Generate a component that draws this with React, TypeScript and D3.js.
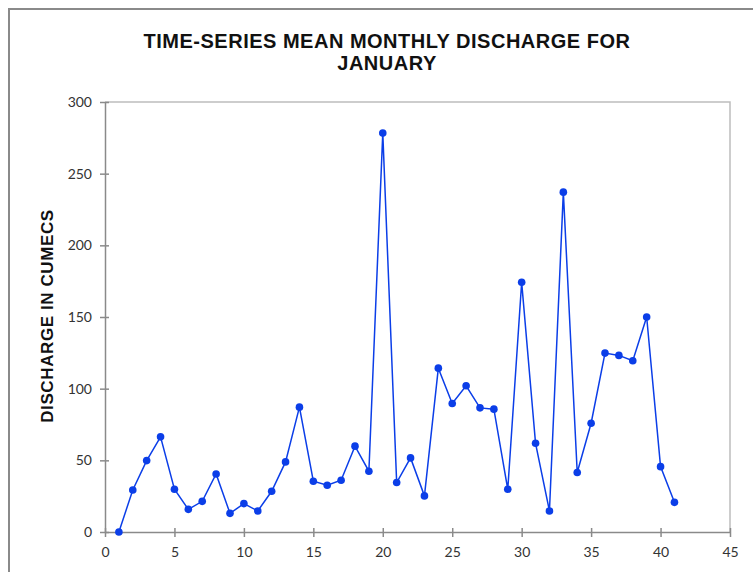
import React, {useEffect, useRef} from 'react'
import * as d3 from 'd3'

// January mean monthly discharge, one value per year index
const years = [1, 2, 3, 4, 5, 6, 7, 8, 9, 10, 11, 12, 13, 14, 15, 16, 17, 18, 19, 20, 21,
  22, 23, 24, 25, 26, 27, 28, 29, 30, 31, 32, 33, 34, 35, 36, 37, 38, 39, 40, 41]
const discharge = [0, 29.3, 49.8, 66.4, 29.8, 15.8, 21.4, 40.5, 13, 19.8, 14.7, 28.4, 48.9, 87.1,
  35.4, 32.6, 36.1, 59.9, 42.4, 278.3, 34.5, 51.7, 25.2, 114.3, 89.7, 102, 86.6, 85.7, 29.8,
  174.2, 61.9, 14.7, 237.1, 41.5, 75.9, 124.8, 123.2, 119.5, 150, 45.6, 20.7]
const xTicks = [0, 5, 10, 15, 20, 25, 30, 35, 40, 45]
const yTicks = [0, 50, 100, 150, 200, 250, 300]
const titleLines = ['TIME-SERIES MEAN MONTHLY DISCHARGE FOR', 'JANUARY']
const yTitle = 'DISCHARGE IN CUMECS'

const W = 753, H = 572
const margin = {top: 102, right: 23, bottom: 40, left: 105}
const blue = '#0b3ee8'
const tickFont = 'Lato, "Open Sans", sans-serif'
const boldFont = '"Liberation Sans", Arial, sans-serif'

function Chart() {
  const ref = useRef<SVGSVGElement>(null)

  useEffect(() => {
    const svg = d3.select(ref.current)
    svg.selectAll('*').remove()

    const width = W - margin.left - margin.right
    const height = H - margin.top - margin.bottom

    // outer chart frame (cut off at right/bottom)
    svg.append('rect')
      .attr('x', 9).attr('y', 9)
      .attr('width', W + 20).attr('height', H + 20)
      .attr('fill', 'white')
      .attr('stroke', '#8a8a8a').attr('stroke-width', 2)

    const title = svg.append('text')
      .attr('text-anchor', 'middle')
      .attr('font-family', boldFont)
      .attr('font-weight', 'bold')
      .attr('font-size', 20)
      .attr('letter-spacing', 0.5)
      .attr('fill', '#111')
    titleLines.forEach((t, i) => {
      title.append('tspan').attr('x', 387).attr('y', 48 + i * 22).text(t)
    })

    svg.append('text')
      .attr('transform', `translate(53,${margin.top + height / 2 - 1}) rotate(-90)`)
      .attr('text-anchor', 'middle')
      .attr('font-family', boldFont)
      .attr('font-weight', 'bold')
      .attr('font-size', 17)
      .attr('letter-spacing', 0.6)
      .attr('fill', '#111')
      .text(yTitle)

    const g = svg.append('g').attr('transform', `translate(${margin.left},${margin.top})`)

    const x = d3.scaleLinear().domain([0, 45]).range([0, width])
    const y = d3.scaleLinear().domain([0, 300]).range([height, 0])

    // plot area frame
    g.append('path')
      .attr('d', `M0,0H${width}V${height}`)
      .attr('fill', 'none')
      .attr('stroke', '#bdbdbd')
      .attr('stroke-width', 1.5)

    const xAxis = g.append('g')
      .attr('transform', `translate(0,${height})`)
      .call(d3.axisBottom(x).tickValues(xTicks).tickSize(5).tickSizeOuter(0))
    xAxis.selectAll('.tick line').attr('y1', -4)
    const yAxis = g.append('g')
      .call(d3.axisLeft(y).tickValues(yTicks).tickSize(5).tickSizeOuter(0))
    yAxis.selectAll('.tick line').attr('x1', 4)

    ;[xAxis, yAxis].forEach(a => {
      a.select('.domain').attr('stroke', '#8a8a8a').attr('stroke-width', 1.5)
      a.selectAll('.tick line').attr('stroke', '#8a8a8a').attr('stroke-width', 1.5)
      a.selectAll('.tick text')
        .attr('font-family', tickFont)
        .attr('font-size', 14)
        .attr('fill', '#333')
    })
    xAxis.selectAll('.tick text').attr('dy', '1.2em')
    yAxis.selectAll('.tick text').attr('x', -13)

    const pts = years.map((yr, i) => [yr, discharge[i]] as [number, number])
    const line = d3.line<[number, number]>().x(d => x(d[0])).y(d => y(d[1]))

    g.append('path')
      .datum(pts)
      .attr('d', line)
      .attr('fill', 'none')
      .attr('stroke', blue)
      .attr('stroke-width', 1.5)

    g.selectAll('circle')
      .data(pts)
      .enter()
      .append('circle')
      .attr('cx', d => x(d[0]))
      .attr('cy', d => y(d[1]))
      .attr('r', 3.8)
      .attr('fill', blue)
  }, [])

  return <svg ref={ref} width={W} height={H} style={{display: 'block'}} />
}

export default function App() {
  return (
    <div style={{position: 'fixed', left: 0, top: 0, background: 'white'}}>
      <Chart />
    </div>
  )
}
